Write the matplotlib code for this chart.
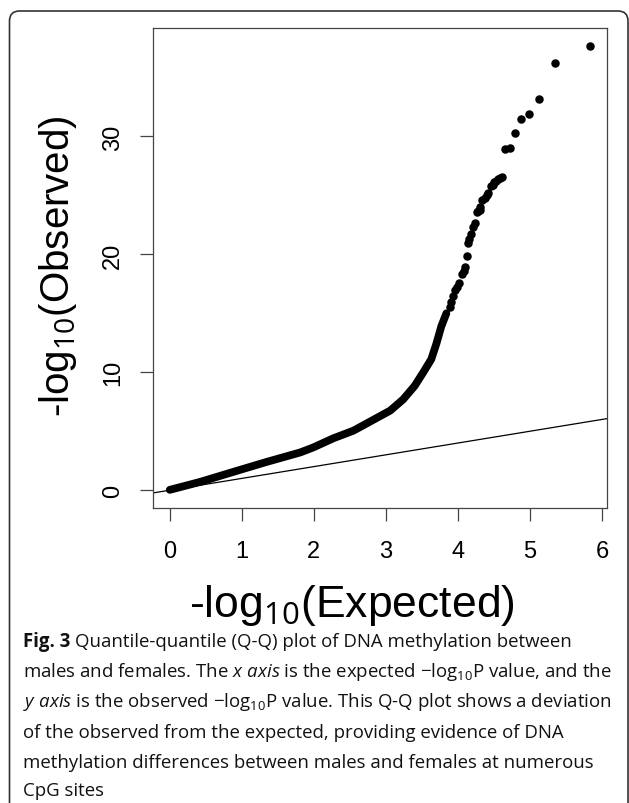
import matplotlib
matplotlib.use("Agg")
import matplotlib.pyplot as plt
from matplotlib.patches import FancyBboxPatch
from matplotlib.transforms import IdentityTransform

plt.rcParams['mathtext.fontset'] = 'custom'
plt.rcParams['mathtext.rm'] = 'Open Sans'
plt.rcParams['mathtext.it'] = 'Open Sans:italic'
plt.rcParams['mathtext.bf'] = 'Open Sans:bold'

# dense part of the Q-Q curve (expected vs observed -log10 P)
exp_dense = [0.00, 0.42, 0.88, 1.34, 1.81, 1.99, 2.27, 2.55, 2.73, 2.82, 3.06, 3.24, 3.40,
             3.52, 3.63, 3.70, 3.77, 3.84]
obs_dense = [0.03, 0.70, 1.55, 2.39, 3.20, 3.62, 4.40, 5.05, 5.65, 5.95, 6.75, 7.70, 8.85,
             10.0, 11.1, 12.4, 13.9, 15.0]

# upper tail, individual points
exp_tail = [3.89, 3.91, 3.93, 3.96, 3.99, 4.02, 4.05, 4.08, 4.10, 4.12, 4.14, 4.16, 4.18,
            4.21, 4.24, 4.26, 4.28, 4.30, 4.31, 4.33, 4.375, 4.40, 4.42, 4.46, 4.49, 4.50,
            4.53, 4.56, 4.58, 4.61, 4.66, 4.72, 4.79, 4.88, 4.99, 5.13, 5.35, 5.83]
obs_tail = [15.5, 16.0, 16.5, 17.0, 17.2, 17.6, 18.3, 18.6, 18.9, 19.9, 21.0, 21.3, 21.7,
            22.3, 22.7, 23.6, 23.7, 23.8, 24.0, 24.6, 24.8, 25.0, 25.2, 25.8, 25.9, 26.1,
            26.2, 26.4, 26.5, 26.6, 28.9, 29.0, 30.3, 31.5, 31.9, 33.2, 36.2, 37.7]

x_ticks = [0, 1, 2, 3, 4, 5, 6]
y_ticks = [0, 10, 20, 30]

caption_head = "Fig. 3"
caption_lines = [
    "Quantile-quantile (Q-Q) plot of DNA methylation between",
    r"males and females. The $\mathit{x\ axis}$ is the expected $\mathrm{-log}_{10}\mathrm{P}$ value, and the",
    r"$\mathit{y\ axis}$ is the observed $\mathrm{-log}_{10}\mathrm{P}$ value. This Q-Q plot shows a deviation",
    "of the observed from the expected, providing evidence of DNA",
    "methylation differences between males and females at numerous",
    "CpG sites",
]

W, H = 629, 804
fig = plt.figure(figsize=(W / 100, H / 100), dpi=100)

# rounded frame around the whole figure
frame = FancyBboxPatch((9.5, -30), 618.5, H - 12 + 30,
                       boxstyle="round,pad=0,rounding_size=10",
                       transform=IdentityTransform(), fill=False,
                       edgecolor='#333333', linewidth=1.2)
fig.patches.append(frame)

ax = fig.add_axes([153 / W, 1 - 509 / H, 454 / W, 480 / H])
ax.plot(exp_dense, obs_dense, '-', color='black', lw=5.6, solid_capstyle='round',
        solid_joinstyle='round')
ax.plot(exp_tail, obs_tail, 'o', color='black', ms=6.1, mec='none')
ax.axline((0, 0), slope=1, color='black', lw=0.9)

ax.set_xlim(-0.233, 6.07)
ax.set_ylim(-1.51, 39.2)
ax.set_xticks(x_ticks)
ax.set_yticks(y_ticks)
ax.set_xticklabels([str(t) for t in x_ticks], family='Liberation Sans')
ax.set_yticklabels([str(t) for t in y_ticks], family='Liberation Sans',
                   rotation=90, va='center')
for s in ax.spines.values():
    s.set_color('#444444')
    s.set_linewidth(0.9)
ax.tick_params(axis='both', length=9.4, width=0.9, color='#444444', labelsize=17)
ax.tick_params(axis='x', pad=14)
ax.tick_params(axis='y', pad=11.5)

fig.text(352 / W, 1 - 606 / H, "-log$_{10}$(Expected)", family='Liberation Sans',
         fontsize=32, ha='center', va='center')
fig.text(58 / W, 1 - 266 / H, "-log$_{10}$(Observed)", family='Liberation Sans',
         fontsize=29, ha='center', va='center', rotation=90)

cap_size = 13.4
y_lines = [642, 672, 702, 733, 763, 791]
renderer = fig.canvas.get_renderer()
head = fig.text(23 / W, 1 - y_lines[0] / H, caption_head, family='Open Sans',
                fontweight='bold', fontsize=cap_size, ha='left', va='center', color='#111111')
head_w = head.get_window_extent(renderer).width
for i, (yy, line) in enumerate(zip(y_lines, caption_lines)):
    x0 = 23 + (head_w + 4.5 if i == 0 else 0)
    fig.text(x0 / W, 1 - yy / H, line, family='Open Sans', fontsize=cap_size,
             ha='left', va='center', color='#111111')

fig.savefig("out.png", dpi=100)
